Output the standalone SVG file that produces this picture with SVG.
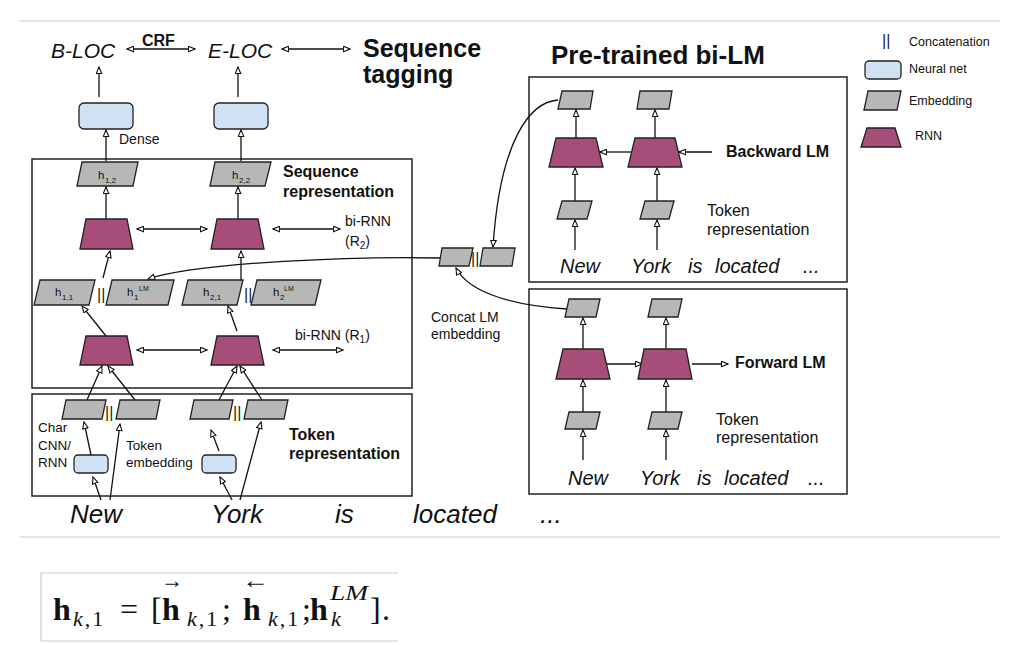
<svg xmlns="http://www.w3.org/2000/svg" width="1015" height="645" viewBox="0 0 1015 645">
<defs>
<style>
text{font-family:"Liberation Sans",Arial,sans-serif;fill:#111}
.emb{fill:#b7b7b7;stroke:#222;stroke-width:1.3}
.rnn{fill:#a64d79;stroke:#222;stroke-width:1.3}
.nn{fill:#cfe2f3;stroke:#222;stroke-width:1.3}
.frame{fill:none;stroke:#222;stroke-width:1.5}
.c{fill:none;stroke:#111;stroke-width:1.3;marker-end:url(#ah)}
.d{fill:none;stroke:#111;stroke-width:1.3;marker-start:url(#ah);marker-end:url(#ah)}
.sep{stroke:#cccccc;stroke-width:1.2}
.it{font-style:italic}
.b{font-weight:bold}
.hl{font-size:11.5px}
.sub{font-size:8px}
.sup{font-size:7px}
.lbl{font-size:14px}
.w1{font-size:26px;font-style:italic}
.w2{font-size:20px;font-style:italic}
.bar{font-size:16px;fill:#222;opacity:0.99}
.m{font-family:"Liberation Serif","DejaVu Serif",serif}
</style>
<marker id="ah" viewBox="0 0 8 7" refX="7.3" refY="3.5" markerWidth="8" markerHeight="7" markerUnits="userSpaceOnUse" orient="auto-start-reverse">
<path d="M0.7,0.7 L7.3,3.5 L0.7,6.3 z" fill="#fff" stroke="#111" stroke-width="1.1"/>
</marker>
</defs>
<rect width="1015" height="645" fill="#fff"/>
<line class="sep" x1="20" y1="21" x2="1000" y2="21"/>
<line class="sep" x1="20" y1="537" x2="1000" y2="537"/>

<!-- frames -->
<g id="frames">
<rect class="frame" x="32" y="159" width="380" height="229"/>
<rect class="frame" x="32" y="394" width="380" height="102"/>
<rect class="frame" x="529" y="77" width="318" height="205"/>
<rect class="frame" x="529" y="289" width="318" height="205"/>
</g>

<!-- connectors -->
<g id="connectors">
<line class="d" x1="127" y1="49" x2="195" y2="49"/>
<line class="d" x1="282" y1="49" x2="350" y2="49"/>
<line class="c" x1="99" y1="97" x2="99" y2="67"/>
<line class="c" x1="238" y1="97" x2="238" y2="67"/>
<line class="c" x1="106" y1="161" x2="106" y2="130"/>
<line class="c" x1="241" y1="161" x2="241" y2="130"/>
<line class="c" x1="106" y1="219" x2="106" y2="187"/>
<line class="c" x1="238" y1="219" x2="238" y2="187"/>
<line class="d" x1="137" y1="229" x2="207" y2="229"/>
<line class="d" x1="273" y1="229" x2="340" y2="229"/>
<line class="c" x1="103" y1="278" x2="110" y2="251"/>
<line class="c" x1="241" y1="280" x2="241" y2="251"/>
<path class="c" d="M440,258 C360,256 200,262 148,279"/>
<line class="c" x1="106" y1="336" x2="82" y2="306"/>
<line class="c" x1="237" y1="331" x2="228" y2="306"/>
<line class="d" x1="137" y1="350" x2="207" y2="350"/>
<line class="d" x1="273" y1="350" x2="343" y2="350"/>
<line class="c" x1="87" y1="400" x2="102" y2="366"/>
<line class="c" x1="135" y1="400" x2="108" y2="366"/>
<line class="c" x1="219" y1="400" x2="237" y2="366"/>
<line class="c" x1="262" y1="400" x2="240" y2="366"/>
<line class="c" x1="91" y1="455" x2="84" y2="422"/>
<line class="c" x1="101" y1="500" x2="93" y2="477"/>
<line class="c" x1="110" y1="500" x2="120" y2="424"/>
<line class="c" x1="219" y1="451" x2="211" y2="430"/>
<line class="c" x1="232" y1="500" x2="220" y2="477"/>
<line class="c" x1="240" y1="500" x2="261" y2="422"/>
<path class="c" d="M558,100 C530,102 500,140 493,247"/>
<path class="c" d="M567,309 C520,306 470,295 456,268"/>
<!-- backward LM -->
<line class="c" x1="576" y1="138" x2="576" y2="110"/>
<line class="c" x1="655" y1="138" x2="655" y2="110"/>
<line class="c" x1="631" y1="152" x2="600" y2="152"/>
<line class="c" x1="712" y1="152" x2="679" y2="152"/>
<line class="c" x1="575" y1="201" x2="575" y2="168"/>
<line class="c" x1="657" y1="201" x2="657" y2="168"/>
<line class="c" x1="575" y1="250" x2="575" y2="220"/>
<line class="c" x1="657" y1="250" x2="657" y2="220"/>
<!-- forward LM -->
<line class="c" x1="583" y1="349" x2="583" y2="318"/>
<line class="c" x1="666" y1="349" x2="666" y2="318"/>
<line class="c" x1="607" y1="364" x2="642" y2="364"/>
<line class="c" x1="692" y1="364" x2="728" y2="364"/>
<line class="c" x1="583" y1="412" x2="583" y2="380"/>
<line class="c" x1="666" y1="412" x2="666" y2="380"/>
<line class="c" x1="583" y1="460" x2="583" y2="430"/>
<line class="c" x1="666" y1="460" x2="666" y2="430"/>
</g>

<!-- top labels -->
<g id="tags">
<text class="it" x="51" y="58" font-size="21">B-LOC</text>
<text class="it" x="208" y="58" font-size="21">E-LOC</text>
<text class="b" x="142" y="46" font-size="16">CRF</text>
<text class="b" x="363" y="57" font-size="25">Sequence</text>
<text class="b" x="363" y="83" font-size="25">tagging</text>
<text class="b" x="551" y="64" font-size="26">Pre-trained bi-LM</text>
</g>

<g id="dense1"><rect class="nn" x="79" y="103" width="54" height="26" rx="5"/></g>
<g id="dense2"><rect class="nn" x="214" y="103" width="54" height="26" rx="5"/></g>
<text class="lbl" x="119" y="144">Dense</text>

<g id="seqrep-label">
<text class="b" x="283" y="177" font-size="16">Sequence</text>
<text class="b" x="283" y="197" font-size="16">representation</text>
</g>

<g id="h12"><polygon class="emb" points="82,162 138,162 133,186 77,186"/>
<text class="hl" x="98" y="179">h</text><text class="sub" x="105" y="183">1,2</text></g>
<g id="h22"><polygon class="emb" points="215,162 271,162 265,186 210,186"/>
<text class="hl" x="232" y="179">h</text><text class="sub" x="239" y="183">2,2</text></g>

<g id="rnn2a"><polygon class="rnn" points="86,219 127,219 133,249 80,249"/></g>
<g id="rnn2b"><polygon class="rnn" points="217,219 258,219 264,249 211,249"/></g>
<text class="lbl" x="345" y="226">bi-RNN</text>
<text class="lbl" x="345" y="246">(R<tspan font-size="10" dy="3">2</tspan><tspan dy="-3">)</tspan></text>

<g id="h11"><polygon class="emb" points="40,280 95,280 89,305 34,305"/>
<text class="hl" x="55" y="296">h</text><text class="sub" x="62" y="300">1,1</text></g>
<text class="bar" x="97" y="300">||</text>
<g id="h1LM"><polygon class="emb" points="112,280 174,280 168,305 106,305"/>
<text class="hl" x="127" y="296">h</text><text class="sub" x="134" y="300">1</text><text class="sup" x="139" y="291">LM</text></g>
<g id="h21"><polygon class="emb" points="188,280 243,280 237,305 182,305"/>
<text class="hl" x="203" y="296">h</text><text class="sub" x="210" y="300">2,1</text></g>
<text class="bar" x="244" y="300">||</text>
<g id="h2LM"><polygon class="emb" points="257,280 321,280 315,305 251,305"/>
<text class="hl" x="273" y="296">h</text><text class="sub" x="280" y="300">2</text><text class="sup" x="284" y="291">LM</text></g>

<g id="rnn1a"><polygon class="rnn" points="86,336 127,336 133,365 80,365"/></g>
<g id="rnn1b"><polygon class="rnn" points="217,336 258,336 264,365 211,365"/></g>
<text class="lbl" x="295" y="340">bi-RNN (R<tspan font-size="10" dy="3">1</tspan><tspan dy="-3">)</tspan></text>

<g id="emb-char1"><polygon class="emb" points="66,400 106,400 102,419 62,419"/></g>
<text class="bar" x="105" y="418">||</text>
<g id="emb-tok1"><polygon class="emb" points="120,400 160,400 156,419 116,419"/></g>
<g id="emb-char2"><polygon class="emb" points="194,400 233,400 229,419 190,419"/></g>
<text class="bar" x="233" y="418">||</text>
<g id="emb-tok2"><polygon class="emb" points="248,400 288,400 284,419 244,419"/></g>
<g id="charnn1"><rect class="nn" x="74" y="455" width="34" height="18" rx="4"/></g>
<g id="charnn2"><rect class="nn" x="202" y="455" width="34" height="18" rx="4"/></g>
<text font-size="13.5" x="38" y="432">Char</text>
<text font-size="13.5" x="38" y="450">CNN/</text>
<text font-size="13.5" x="38" y="467">RNN</text>
<text font-size="13.5" x="126" y="450">Token</text>
<text font-size="13.5" x="126" y="467">embedding</text>
<text class="b" x="289" y="440" font-size="16">Token</text>
<text class="b" x="289" y="459" font-size="16">representation</text>

<g id="words">
<text class="w1" x="70" y="523">New</text>
<text class="w1" x="211" y="523">York</text>
<text class="w1" x="335" y="523">is</text>
<text class="w1" x="413" y="523">located</text>
<text class="w1" x="540" y="523">...</text>
</g>

<g id="concat">
<polygon class="emb" points="442,248 473,248 469,266 439,266"/>
<text class="bar" x="471" y="264">||</text>
<polygon class="emb" points="483,248 515,248 512,266 480,266"/>
<text class="lbl" x="431" y="322">Concat LM</text>
<text class="lbl" x="431" y="339">embedding</text>
</g>

<g id="backward-lm">
<polygon class="emb" points="562,91 593,91 590,109 558,109"/>
<polygon class="emb" points="640,91 672,91 669,109 637,109"/>
<polygon class="rnn" points="556,138 596,138 603,167 549,167"/>
<polygon class="rnn" points="635,138 675,138 682,167 628,167"/>
<polygon class="emb" points="562,201 592,201 587,219 557,219"/>
<polygon class="emb" points="645,201 674,201 669,219 640,219"/>
<text class="b" x="726" y="157" font-size="16">Backward LM</text>
<text font-size="16" x="707" y="216">Token</text>
<text font-size="16" x="707" y="235">representation</text>
<text class="w2" x="560" y="273">New</text>
<text class="w2" x="631" y="273">York</text>
<text class="w2" x="688" y="273">is</text>
<text class="w2" x="715" y="273">located</text>
<text class="w2" x="803" y="273">...</text>
</g>

<g id="forward-lm">
<polygon class="emb" points="569,299 600,299 596,317 565,317"/>
<polygon class="emb" points="652,299 682,299 678,317 648,317"/>
<polygon class="rnn" points="563,349 603,349 610,379 556,379"/>
<polygon class="rnn" points="644,349 686,349 692,379 638,379"/>
<polygon class="emb" points="569,412 600,412 596,429 565,429"/>
<polygon class="emb" points="652,412 682,412 678,429 648,429"/>
<text class="b" x="735" y="368" font-size="16">Forward LM</text>
<text font-size="16" x="716" y="425">Token</text>
<text font-size="16" x="716" y="443">representation</text>
<text class="w2" x="568" y="485">New</text>
<text class="w2" x="640" y="485">York</text>
<text class="w2" x="697" y="485">is</text>
<text class="w2" x="724" y="485">located</text>
<text class="w2" x="808" y="485">...</text>
</g>

<g id="legend">
<text class="bar" x="882" y="46">||</text>
<text font-size="12.5" x="909" y="46">Concatenation</text>
<rect class="nn" x="865" y="61" width="36" height="18" rx="4"/>
<text font-size="12.5" x="909" y="73">Neural net</text>
<polygon class="emb" points="868,91 901,91 897,110 864,110"/>
<text font-size="12.5" x="909" y="105">Embedding</text>
<polygon class="rnn" points="867,128 895,128 901,147 861,147"/>
<text font-size="12.5" x="915" y="140">RNN</text>
</g>

<g id="formula">
<path d="M398,573 H41 V641 H398" fill="none" stroke="#cccccc" stroke-width="1.2"/>
<text class="m b" x="53" y="620" font-size="32">h</text>
<text class="m" x="73" y="626" font-size="22" letter-spacing="2"><tspan font-style="italic">k</tspan>,1</text>
<text class="m" x="120" y="620" font-size="32">=</text>
<text class="m" x="151" y="620" font-size="32">[</text>
<text class="m" x="161" y="588" font-size="24" textLength="22" lengthAdjust="spacingAndGlyphs">→</text>
<text class="m b" x="162" y="620" font-size="32">h</text>
<text class="m" x="187" y="626" font-size="22" letter-spacing="2"><tspan font-style="italic">k</tspan>,1</text>
<text class="m" x="222" y="620" font-size="32">;</text>
<text class="m" x="242" y="588" font-size="24" textLength="27" lengthAdjust="spacingAndGlyphs">←</text>
<text class="m b" x="243" y="620" font-size="32">h</text>
<text class="m" x="268" y="626" font-size="22" letter-spacing="2"><tspan font-style="italic">k</tspan>,1</text>
<text class="m" x="302" y="620" font-size="32">;</text>
<text class="m b" x="310" y="620" font-size="32">h</text>
<text class="m it" x="330" y="600" font-size="22" textLength="38" lengthAdjust="spacingAndGlyphs">LM</text>
<text class="m it" x="331" y="626" font-size="22">k</text>
<text class="m" x="370" y="620" font-size="32">]</text>
<text class="m" x="382" y="620" font-size="32">.</text>
</g>
</svg>
